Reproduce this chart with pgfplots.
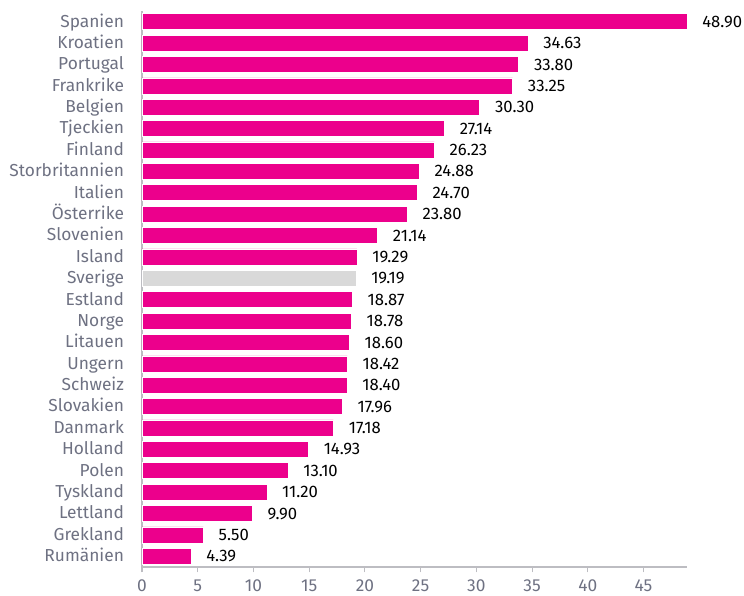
\documentclass[border=0pt]{standalone}
\usepackage{pgfplots}
\pgfplotsset{compat=1.18}
\usepackage{fontspec}
\setmainfont{Fira Sans}
\definecolor{mag}{HTML}{EC008C}
\definecolor{sv}{HTML}{D9D9D9}
\definecolor{axg}{HTML}{BDBDC2}
\definecolor{txg}{HTML}{6E7182}
\begin{document}
\begin{tikzpicture}
\begin{axis}[
  name=ax,
  scale only axis,
  width=408.75pt, height=417pt,
  xbar, bar width=12pt, bar shift=0pt,
  xmin=0, xmax=48.9,
  ymin=-0.5, ymax=25.5,
  axis x line*=bottom, axis y line*=left,
  axis line style={axg, line width=1.2pt},
  x axis line style={-}, y axis line style={-},
  xtick={0,5,...,45},
  xtick style={axg, line width=0.8pt},
  tick align=outside,
  major tick length=4pt,
  ytick={0,...,25},
  ytick style={draw=none},
  yticklabels={Rumänien,Grekland,Lettland,Tyskland,Polen,Holland,Danmark,Slovakien,Schweiz,Ungern,Litauen,Norge,Estland,Sverige,Island,Slovenien,Österrike,Italien,Storbritannien,Finland,Tjeckien,Belgien,Frankrike,Portugal,Kroatien,Spanien},
  yticklabel style={font=\fontsize{13pt}{14pt}\selectfont, text=txg, xshift=-6pt, yshift=-1.5pt, text height=0.72em, text depth=0.22em},
  xticklabel style={font=\fontsize{13pt}{14pt}\selectfont, text=txg, yshift=-2pt},
  /pgf/number format/assume math mode=true,
  nodes near coords,
  nodes near coords style={anchor=west, xshift=8pt, font=\fontsize{12.5pt}{13pt}\selectfont, text=black,
    /pgf/number format/fixed, /pgf/number format/precision=2, /pgf/number format/fixed zerofill},
  point meta=x,
  clip=false,
]
\addplot[fill=mag, draw=white, line width=0.4pt] coordinates {
(4.39,0) (5.50,1) (9.90,2) (11.20,3) (13.10,4) (14.93,5) (17.18,6) (17.96,7) (18.40,8) (18.42,9) (18.60,10) (18.78,11) (18.87,12)
(19.29,14) (21.14,15) (23.80,16) (24.70,17) (24.88,18) (26.23,19) (27.14,20) (30.30,21) (33.25,22) (33.80,23) (34.63,24) (48.90,25)
};
\addplot[fill=sv, draw=white, line width=0.4pt] coordinates {(19.19,13)};
\end{axis}
\pgfresetboundingbox
\path ([xshift=-106.5pt, yshift=-21.75pt]ax.south west) rectangle ([xshift=42.75pt, yshift=8.25pt]ax.north east);
\end{tikzpicture}
\end{document}
